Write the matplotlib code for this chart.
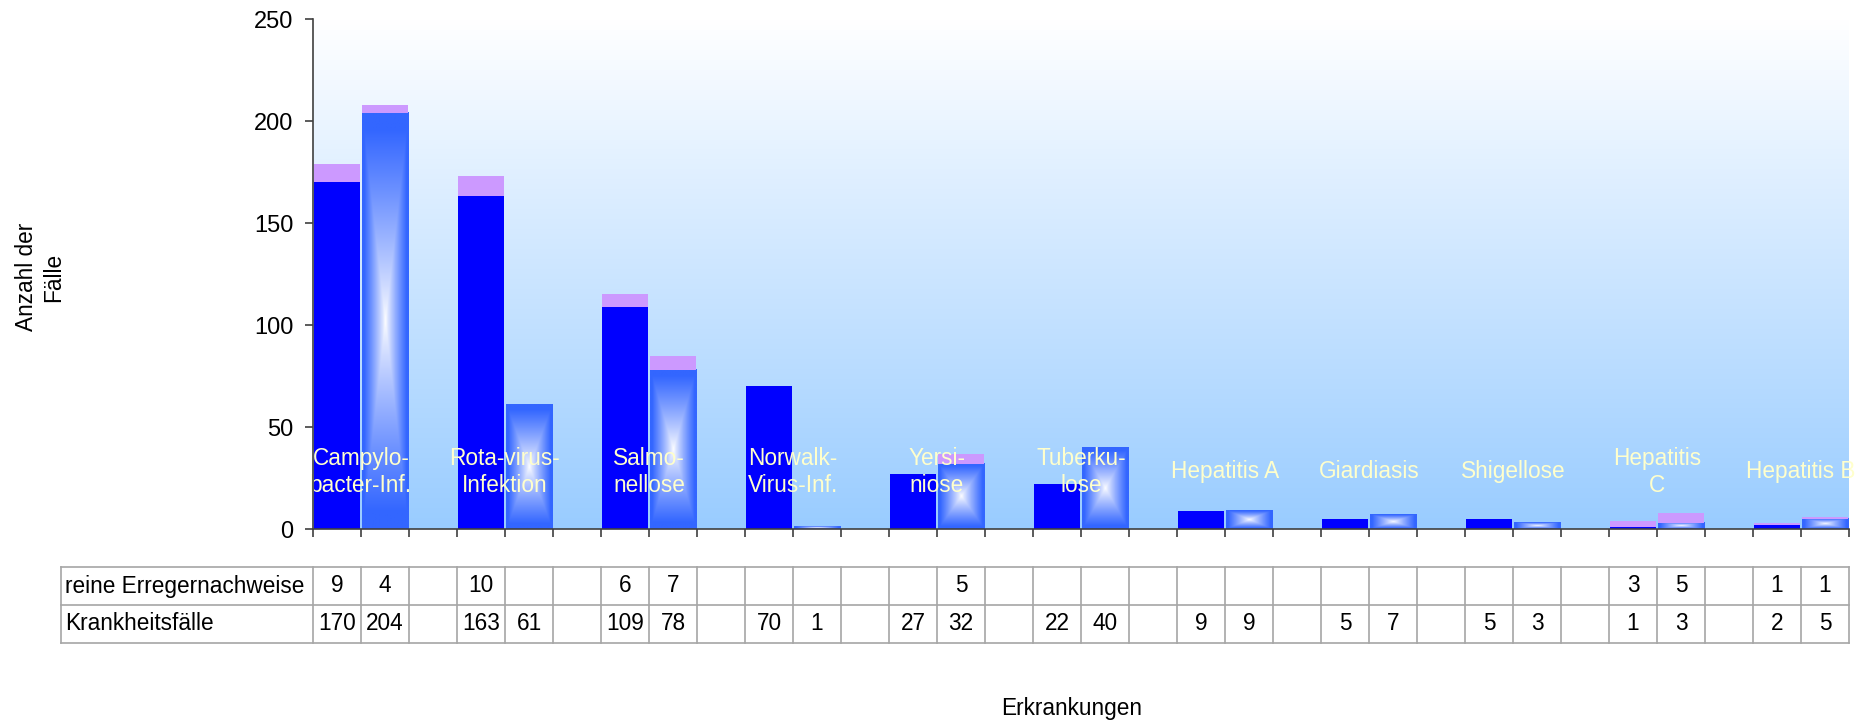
import matplotlib
matplotlib.use('Agg')
import matplotlib.pyplot as plt
import matplotlib.transforms as mtransforms
import numpy as np
from matplotlib.colors import to_rgb

plt.rcParams['font.family'] = ['Liberation Sans', 'DejaVu Sans']

# Erkrankungen, je zwei Jahre nebeneinander
diseases = ['Campylo-\nbacter-Inf.', 'Rota-virus-\nInfektion', 'Salmo-\nnellose',
            'Norwalk-\nVirus-Inf.', 'Yersi-\nniose', 'Tuberku-\nlose', 'Hepatitis A',
            'Giardiasis', 'Shigellose', 'Hepatitis\nC', 'Hepatitis B']
cases_a = [170, 163, 109, 70, 27, 22, 9, 5, 5, 1, 2]
cases_b = [204, 61, 78, 1, 32, 40, 9, 7, 3, 3, 5]
pure_a = [9, 10, 6, None, None, None, None, None, None, 3, 1]
pure_b = [4, None, 7, None, 5, None, None, None, None, 5, 1]

row_labels = ['reine Erregernachweise', 'Krankheitsfälle']
yticks = [0, 50, 100, 150, 200, 250]

BLUE = '#0000ff'
GRAD_EDGE = '#3366ff'
PURPLE = '#cc99ff'
LABEL_COLOR = '#ffffcc'
GRID_GRAY = '#a6a6a6'
FS = 16.3
BAR_W = 0.96

n_slots = 3 * len(diseases) - 1

fig = plt.figure(figsize=(18.58, 7.22), dpi=100)
ax = fig.add_axes([313 / 1858, 1 - 529 / 722, 1536 / 1858, 510 / 722])

# background gradient of the plot area
bg_top = np.array(to_rgb('#ffffff'))
bg_bot = np.array(to_rgb('#99ccff'))
s = np.linspace(0, 1, 256)[:, None]
bg = (bg_top * (1 - s) + bg_bot * s)[:, None, :]
ax.imshow(bg, extent=[0, 1, 0, 1], transform=ax.transAxes, aspect='auto', zorder=0,
          interpolation='bilinear')


def gradient_bar(x, h, w):
    ny, nx = 200, 60
    yy, xx = np.mgrid[-1:1:ny * 1j, -1:1:nx * 1j]
    t = np.maximum(np.abs(xx), np.abs(yy))
    t = np.clip(t / 0.92, 0, 1) ** 0.85
    edge = np.array(to_rgb(GRAD_EDGE))
    rgb = np.ones(3) * (1 - t[..., None]) + edge * t[..., None]
    ax.imshow(rgb, extent=[x - w / 2, x + w / 2, 0, h], aspect='auto', zorder=2,
              interpolation='bilinear')


table_top = []
table_bot = []
for g in range(len(diseases)):
    xa, xb = 3 * g, 3 * g + 1
    ax.bar(xa, cases_a[g], width=BAR_W, color=BLUE, zorder=2)
    if pure_a[g]:
        ax.bar(xa, pure_a[g], bottom=cases_a[g], width=BAR_W, color=PURPLE, zorder=2)
    gradient_bar(xb, cases_b[g], BAR_W)
    if pure_b[g]:
        ax.bar(xb, pure_b[g], bottom=cases_b[g], width=BAR_W, color=PURPLE, zorder=2)
    ax.text(xa + 0.5, 28, diseases[g], ha='center', va='center', color=LABEL_COLOR,
            fontsize=FS, zorder=4, linespacing=1.2)
    table_top += [pure_a[g], pure_b[g]]
    table_bot += [cases_a[g], cases_b[g]]
    if g < len(diseases) - 1:
        table_top.append(None)
        table_bot.append(None)

ax.set_xlim(-0.5, n_slots - 0.5)
ax.set_ylim(0, 250)
ax.set_yticks(yticks)
ax.set_xticks(np.arange(n_slots + 1) - 0.5)
ax.set_xticklabels([])
for side in ('top', 'right'):
    ax.spines[side].set_visible(False)
for side in ('left', 'bottom'):
    ax.spines[side].set_color('#404040')
    ax.spines[side].set_linewidth(1.2)
    ax.spines[side].set_zorder(5)
ax.tick_params(axis='both', direction='out', length=6, width=1.2, color='#404040')
ax.tick_params(axis='y', labelsize=17, pad=8)

# data table below the axis
trans = mtransforms.blended_transform_factory(ax.transData, ax.transAxes)
y_rows = [-(567 - 529) / 510, -(605 - 529) / 510, -(643 - 529) / 510]
x_left = -0.5 + (61 - 313) / 48
x_right = n_slots - 0.5
for yy in y_rows:
    ax.plot([x_left, x_right], [yy, yy], color=GRID_GRAY, lw=1.2, transform=trans,
            clip_on=False)
for xv in [x_left] + list(np.arange(n_slots + 1) - 0.5):
    ax.plot([xv, xv], [y_rows[0], y_rows[2]], color=GRID_GRAY, lw=1.2, transform=trans,
            clip_on=False)
for r, values in enumerate([table_top, table_bot]):
    yc = (y_rows[r] + y_rows[r + 1]) / 2
    ax.text(x_left + 0.08, yc, row_labels[r], ha='left', va='center', fontsize=FS,
            transform=trans)
    for i, v in enumerate(values):
        if v is not None:
            ax.text(i, yc, str(v), ha='center', va='center', fontsize=FS, transform=trans)

fig.text(40 / 1858, 1 - 277 / 722, 'Anzahl der\nFälle', rotation=90, ha='center',
         va='center', fontsize=FS, multialignment='center')
fig.text(1072 / 1858, 1 - 709 / 722, 'Erkrankungen', ha='center', va='center', fontsize=FS)

fig.savefig('out.png', dpi=100)
